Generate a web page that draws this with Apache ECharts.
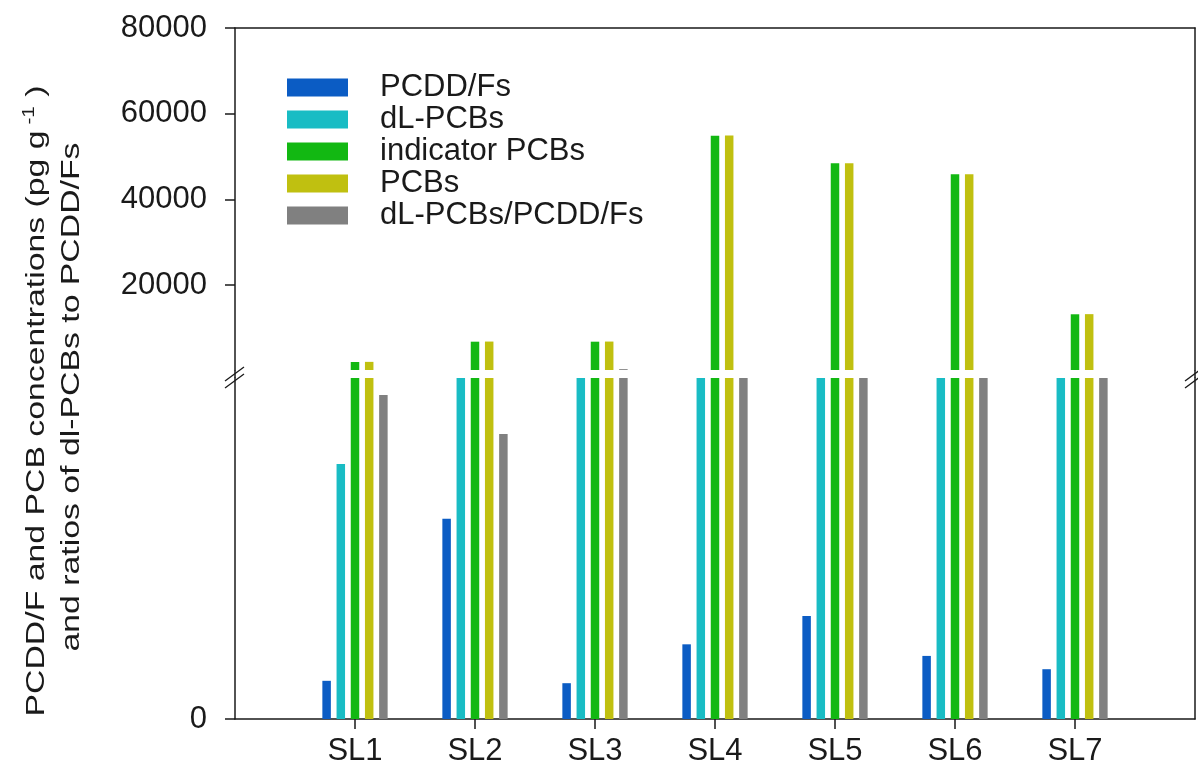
<!DOCTYPE html>
<html>
<head>
<meta charset="utf-8">
<script src="https://cdn.jsdelivr.net/npm/echarts@6/dist/echarts.min.js"></script>
<style>html,body{margin:0;padding:0;background:#fff}#chart{width:1198px;height:777px}</style>
</head>
<body>
<div id="chart"></div>
<script>
// ---- data ----
const sites = ['SL1', 'SL2', 'SL3', 'SL4', 'SL5', 'SL6', 'SL7'];
const pcddfs = [11.2, 58.7, 10.5, 21.9, 30.2, 18.5, 14.6];
const dlPcbs = [74.8, 120, 120, 120, 120, 120, 120];
const indicatorPcbs = [2020, 6760, 6760, 54860, 48410, 45850, 13160];
const pcbs = [2050, 6790, 6790, 54890, 48440, 45880, 13190];
const ratio = [95.0, 83.6, 350, 120, 120, 120, 120];
const upperTicks = [20000, 40000, 60000, 80000];
const lowerTicks = [0];
const seriesNames = ['PCDD/Fs', 'dL-PCBs', 'indicator PCBs', 'PCBs', 'dL-PCBs/PCDD/Fs'];
const seriesData = [pcddfs, dlPcbs, indicatorPcbs, pcbs, ratio];

// ---- layout / style ----
const W = 1198;
const GL = 235, GR = 1195, UP_TOP = 28, UP_BOT = 370, LO_TOP = 378, LO_BOT = 719;
const UP_MIN = 150, UP_MAX = 80000, LO_MIN = 0, LO_MAX = 100;
const colors = ['#0b5cc4', '#19bcc4', '#12b812', '#c0c010', '#808080'];
const FONT = 'Liberation Sans, Arial, sans-serif';
const INK = '#1a1a1a';
const axisLine = { show: true, lineStyle: { color: INK, width: 1.5 } };
const plain = v => String(v);

const cats = [''].concat(sites, ['']);
const pad = arr => [null].concat(arr, [null]);

const series = [];
[0, 1].forEach(g => {
  seriesNames.forEach((name, i) => {
    series.push({
      name: name,
      type: 'bar',
      xAxisIndex: g,
      yAxisIndex: g === 0 ? 0 : 2,
      data: pad(seriesData[i]),
      barWidth: 8.5,
      barGap: '67%',
      clip: true,
      itemStyle: { color: colors[i] },
      emphasis: { disabled: true }
    });
  });
});

const mid = (UP_BOT + LO_TOP) / 2;
const lineStyle = { stroke: INK, lineWidth: 1.3 };
const breakMarks = [];
[GL, GR].forEach(x => {
  breakMarks.push({ type: 'line', shape: { x1: x, y1: UP_BOT, x2: x, y2: LO_TOP }, style: { stroke: INK, lineWidth: 1.5 }, silent: true });
  breakMarks.push({ type: 'line', shape: { x1: x - 10, y1: mid + 7, x2: x + 9, y2: mid - 7 }, style: lineStyle, silent: true });
  breakMarks.push({ type: 'line', shape: { x1: x - 10, y1: mid + 14, x2: x + 9, y2: mid }, style: lineStyle, silent: true });
});

const chart = echarts.init(document.getElementById('chart'), null, { renderer: 'canvas' });
chart.setOption({
  animation: false,
  backgroundColor: '#fff',
  textStyle: { fontFamily: FONT },
  grid: [
    { left: GL, right: W - GR, top: UP_TOP, height: UP_BOT - UP_TOP },
    { left: GL, right: W - GR, top: LO_TOP, height: LO_BOT - LO_TOP }
  ],
  legend: {
    orient: 'vertical',
    left: 282,
    top: 67,
    itemWidth: 61,
    itemHeight: 18,
    itemGap: 1,
    icon: 'rect',
    selectedMode: false,
    data: seriesNames,
    textStyle: { fontSize: 31, fontFamily: FONT, color: INK, lineHeight: 24, padding: [0, 0, 0, 27] }
  },
  xAxis: [
    {
      gridIndex: 0, type: 'category', data: cats, boundaryGap: false, position: 'top',
      axisLine: axisLine, axisTick: { show: false }, axisLabel: { show: false }, splitLine: { show: false }
    },
    {
      gridIndex: 1, type: 'category', data: cats, boundaryGap: false, position: 'bottom',
      axisLine: axisLine,
      axisTick: { show: true, length: 10, lineStyle: { color: INK, width: 1.5 }, interval: (i) => i > 0 && i < cats.length - 1 },
      axisLabel: { show: true, interval: 0, fontSize: 31, fontFamily: FONT, color: INK, margin: 17 },
      splitLine: { show: false }
    }
  ],
  yAxis: [
    {
      gridIndex: 0, type: 'value', min: UP_MIN, max: UP_MAX, position: 'left',
      axisLine: axisLine,
      axisTick: { show: true, length: 10, lineStyle: { color: INK, width: 1.5 }, customValues: upperTicks },
      axisLabel: { show: true, fontSize: 31, fontFamily: FONT, color: INK, margin: 28, customValues: upperTicks, formatter: plain },
      splitLine: { show: false }
    },
    {
      gridIndex: 0, type: 'value', min: UP_MIN, max: UP_MAX, position: 'right',
      axisLine: axisLine, axisTick: { show: false }, axisLabel: { show: false }, splitLine: { show: false }
    },
    {
      gridIndex: 1, type: 'value', min: LO_MIN, max: LO_MAX, position: 'left',
      axisLine: axisLine,
      axisTick: { show: true, length: 10, lineStyle: { color: INK, width: 1.5 }, customValues: lowerTicks },
      axisLabel: { show: true, fontSize: 31, fontFamily: FONT, color: INK, margin: 28, customValues: lowerTicks, formatter: plain },
      splitLine: { show: false }
    },
    {
      gridIndex: 1, type: 'value', min: LO_MIN, max: LO_MAX, position: 'right',
      axisLine: axisLine, axisTick: { show: false }, axisLabel: { show: false }, splitLine: { show: false }
    }
  ],
  series: series,
  graphic: breakMarks.concat([
    {
      type: 'text', x: 37, y: 401, rotation: Math.PI / 2, scaleX: 1.3, silent: true,
      style: {
        text: '{a|PCDD/F and PCB concentrations (pg g}{s| -1}{a| )}',
        align: 'center', verticalAlign: 'middle', fill: INK,
        rich: {
          a: { fontSize: 26, fontFamily: FONT, fill: INK, lineHeight: 30 },
          s: { fontSize: 16, fontFamily: FONT, fill: INK, verticalAlign: 'top', lineHeight: 30, padding: [0, 0, 14, 0] }
        }
      }
    },
    {
      type: 'text', x: 72, y: 397, rotation: Math.PI / 2, scaleX: 1.3, silent: true,
      style: {
        text: 'and ratios of dl-PCBs to PCDD/Fs',
        align: 'center', verticalAlign: 'middle', fill: INK,
        font: '26px ' + FONT
      }
    }
  ])
});
</script>
</body>
</html>
